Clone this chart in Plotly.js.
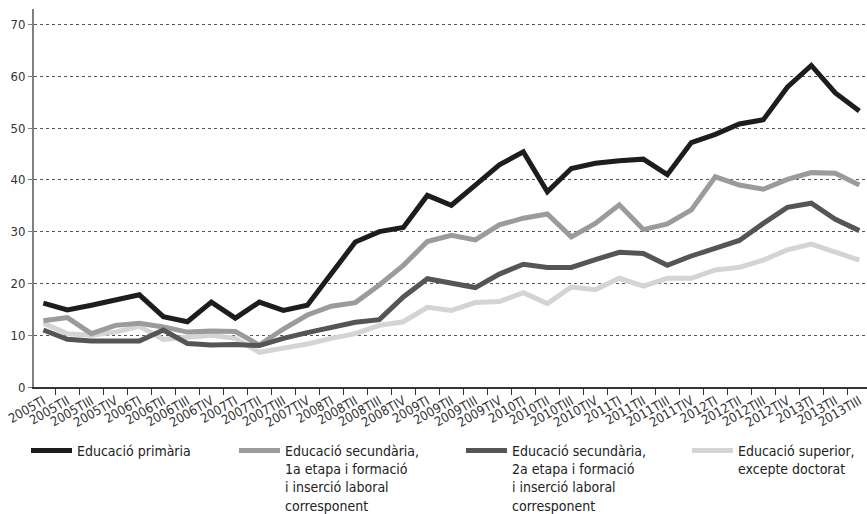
<!DOCTYPE html>
<html>
<head>
<meta charset="utf-8">
<script src="https://cdn.plot.ly/plotly-3.0.1.min.js"></script>
<style>html,body{margin:0;padding:0;background:#fff;}#chart{width:867px;height:514px;}</style>
</head>
<body>
<div id="chart"></div>
<script>
const quarters = [
  "2005TI","2005TII","2005TIII","2005TIV",
  "2006TI","2006TII","2006TIII","2006TIV",
  "2007TI","2007TII","2007TIII","2007TIV",
  "2008TI","2008TII","2008TIII","2008TIV",
  "2009TI","2009TII","2009TIII","2009TIV",
  "2010TI","2010TII","2010TIII","2010TIV",
  "2011TI","2011TII","2011TIII","2011TIV",
  "2012TI","2012TII","2012TIII","2012TIV",
  "2013TI","2013TII","2013TIII"
];
const primaria = [16.2,14.9,15.8,16.8,17.8,13.6,12.6,16.4,13.3,16.4,14.8,15.8,22.0,28.0,30.0,30.8,37.0,35.1,39.0,42.9,45.4,37.7,42.2,43.2,43.7,44.0,41.0,47.2,48.8,50.8,51.6,57.9,62.1,56.8,53.3];
const secundaria1 = [12.8,13.4,10.3,11.9,12.3,11.6,10.6,10.8,10.7,8.1,11.2,13.9,15.6,16.3,19.7,23.5,28.1,29.3,28.4,31.3,32.6,33.4,29.0,31.6,35.2,30.4,31.5,34.2,40.6,39.0,38.2,40.1,41.4,41.3,39.0];
const secundaria2 = [11.0,9.2,8.9,8.9,8.9,11.0,8.4,8.1,8.2,8.0,9.4,10.5,11.6,12.5,13.0,17.4,20.9,20.0,19.2,21.8,23.7,23.1,23.1,24.6,26.0,25.8,23.5,25.3,26.8,28.3,31.6,34.7,35.5,32.4,30.2];
const superior = [12.3,10.3,10.0,10.6,11.7,9.2,9.6,10.0,9.4,6.7,7.5,8.3,9.4,10.3,11.9,12.6,15.4,14.8,16.3,16.5,18.2,16.1,19.3,18.8,21.0,19.5,21.0,21.0,22.6,23.1,24.5,26.5,27.6,26.0,24.5];
const names = [
  "Educació primària",
  "Educació secundària,<br>1a etapa i formació<br>i inserció laboral<br>corresponent",
  "Educació secundària,<br>2a etapa i formació<br>i inserció laboral<br>corresponent",
  "Educació superior,<br>excepte doctorat"
];
const colors = ["#1f1c1d","#9b9b9b","#555555","#d4d4d4"];
const series = [primaria, secundaria1, secundaria2, superior];
const legendIds = ["legend","legend2","legend3","legend4"];

const FONT = "'DejaVu Sans Condensed','DejaVu Sans',sans-serif";

const traces = series.map((s,k)=>({
  type:"scatter", mode:"lines", x:quarters, y:s, name:names[k],
  legend:legendIds[k],
  line:{color:colors[k], width:5, shape:"linear"}
}));
const order = [3,1,2,0];
const data = order.map(k=>traces[k]);

const W = 833, H = 378;
const legX = [26,234,461,687];
const layout = {
  width:867, height:514,
  margin:{l:34, r:0, t:9, b:127, autoexpand:false},
  paper_bgcolor:"#fff", plot_bgcolor:"#fff",
  font:{family:FONT, color:"#333", size:13},
  showlegend:true,
  xaxis:{
    type:"category", range:[-0.39,34.32], automargin:false,
    showgrid:false, zeroline:false,
    showline:true, linecolor:"#333", linewidth:1.5,
    ticks:"outside", ticklen:6, tickcolor:"#333", tickwidth:1,
    tickson:"boundaries",
    tickangle:-30, tickfont:{size:13, color:"#333", family:FONT}
  },
  yaxis:{
    range:[0,73], tickvals:[0,10,20,30,40,50,60,70], automargin:false,
    showgrid:true, gridcolor:"#555", griddash:"dot", gridwidth:1,
    zeroline:false, showline:true, linecolor:"#808080", linewidth:2,
    ticks:"outside", ticklen:4, tickcolor:"#808080",
    tickfont:{size:13, color:"#333", family:FONT}
  }
};
legendIds.forEach((id,k)=>{
  layout[id] = {
    x:(legX[k]-34)/W, xanchor:"left", y:(387-435)/H, yanchor:"top",
    orientation:"v", valign:"top", bgcolor:"rgba(0,0,0,0)",
    font:{family:FONT, size:14, color:"#222"},
    itemwidth:41, tracegroupgap:0
  };
});
Plotly.newPlot("chart", data, layout, {displayModeBar:false, staticPlot:true});
</script>
</body>
</html>
